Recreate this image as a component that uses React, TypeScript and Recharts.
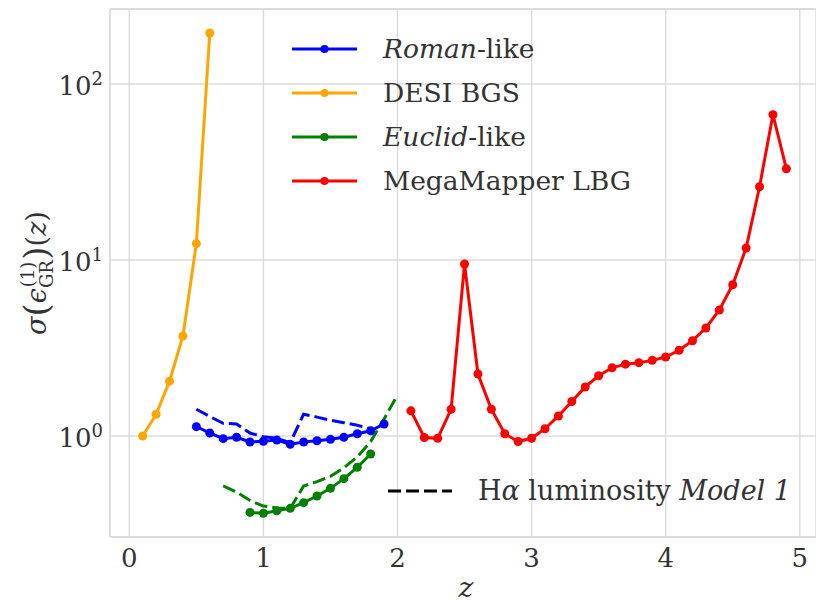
import React from "react";
import {
  LineChart,
  Line,
  XAxis,
  YAxis,
  CartesianGrid,
  ReferenceLine,
} from "recharts";

// redshift bins and forecast errors per survey
const zDesi = [0.1, 0.2, 0.3, 0.4, 0.5, 0.6];
const sigmaDesi = [1.0, 1.33, 2.05, 3.7, 12.4, 195];

const zRoman = [0.5, 0.6, 0.7, 0.8, 0.9, 1.0, 1.1, 1.2, 1.3, 1.4, 1.5, 1.6, 1.7, 1.8, 1.9];
const sigmaRoman = [1.13, 1.04, 0.966, 0.983, 0.925, 0.933, 0.949, 0.897, 0.925, 0.94, 0.957, 0.983, 1.03, 1.07, 1.17];

const zRomanM1 = [0.5, 0.6, 0.7, 0.8, 0.9, 1.0, 1.1, 1.2, 1.3, 1.4, 1.5, 1.6, 1.7, 1.8];
const sigmaRomanM1 = [1.42, 1.29, 1.18, 1.17, 1.04, 0.99, 0.97, 0.916, 1.33, 1.28, 1.23, 1.19, 1.15, 1.1];

const zEuclid = [0.9, 1.0, 1.1, 1.2, 1.3, 1.4, 1.5, 1.6, 1.7, 1.8];
const sigmaEuclid = [0.368, 0.364, 0.376, 0.388, 0.418, 0.456, 0.504, 0.572, 0.664, 0.79];

const zEuclidM1 = [0.7, 0.8, 0.9, 1.0, 1.1, 1.2, 1.3, 1.4, 1.5, 1.6, 1.7, 1.8, 1.9, 2.0];
const sigmaEuclidM1 = [0.52, 0.48, 0.43, 0.4, 0.39, 0.388, 0.52, 0.55, 0.59, 0.66, 0.76, 0.93, 1.25, 1.71];

const zMega = [2.1, 2.2, 2.3, 2.4, 2.5, 2.6, 2.7, 2.8, 2.9, 3.0, 3.1, 3.2, 3.3, 3.4, 3.5, 3.6, 3.7, 3.8, 3.9, 4.0, 4.1, 4.2, 4.3, 4.4, 4.5, 4.6, 4.7, 4.8, 4.9];
const sigmaMega = [1.39, 0.98, 0.97, 1.42, 9.5, 2.25, 1.42, 1.03, 0.93, 0.97, 1.1, 1.3, 1.57, 1.9, 2.2, 2.44, 2.56, 2.61, 2.69, 2.81, 3.07, 3.48, 4.11, 5.2, 7.24, 11.7, 26.1, 67, 33];

const xTicks = [0, 1, 2, 3, 4, 5];
const yTicks = [1, 10, 100];

const FONT = "'DejaVu Serif', serif";
const TEXT = "#333333";
const GRID = "#dcdcdc";
const LW = 3;
const DASH = "13 5";

const zip = (zs: number[], vs: number[]) => zs.map((z, i) => ({ z, s: vs[i] }));

const XTick = ({ x, y, payload }: any) => (
  <text x={x} y={y + 30} textAnchor="middle" fontFamily={FONT} fontSize={26} fill={TEXT}>
    {payload.value}
  </text>
);

const YTick = ({ x, y, payload }: any) => (
  <text x={x - 7} y={y + 11} textAnchor="end" fontFamily={FONT} fontSize={26} fill={TEXT}>
    10
    <tspan fontSize={18} dy={-10}>
      {Math.round(Math.log10(payload.value))}
    </tspan>
  </text>
);

const YLabel = ({ viewBox }: any) => {
  const cy = viewBox.y + viewBox.height / 2;
  const cx = 46;
  return (
    <text
      x={cx}
      y={cy}
      textAnchor="middle"
      transform={`rotate(-90 ${cx} ${cy})`}
      fontFamily={FONT}
      fontSize={27}
      fill={TEXT}
    >
      <tspan fontStyle="italic">σ</tspan>
      <tspan fontSize={34} dy={2}>(</tspan>
      <tspan fontStyle="italic" dy={-2}>ϵ</tspan>
      <tspan fontSize={18} dy={7}>GR</tspan>
      <tspan fontSize={18} dx={-27} dy={-19}>(1)</tspan>
      <tspan fontSize={34} dx={2} dy={14}>)</tspan>
      <tspan dy={-2}>(</tspan>
      <tspan fontStyle="italic">z</tspan>
      <tspan>)</tspan>
    </text>
  );
};

const XLabel = ({ viewBox }: any) => (
  <text
    x={viewBox.x + viewBox.width / 2 + 3}
    y={viewBox.y + 60}
    textAnchor="middle"
    fontFamily={FONT}
    fontStyle="italic"
    fontSize={28}
    fill={TEXT}
  >
    z
  </text>
);

const solid = [
  { key: "roman", color: "#0000ff", data: zip(zRoman, sigmaRoman) },
  { key: "desi", color: "#ffa500", data: zip(zDesi, sigmaDesi) },
  { key: "euclid", color: "#008000", data: zip(zEuclid, sigmaEuclid) },
  { key: "mega", color: "#ff0000", data: zip(zMega, sigmaMega) },
];

const dashed = [
  { key: "romanM1", color: "#0000ff", data: zip(zRomanM1, sigmaRomanM1) },
  { key: "euclidM1", color: "#008000", data: zip(zEuclidM1, sigmaEuclidM1) },
];

const legendRows = [
  { color: "#0000ff", label: <><i>Roman</i>-like</> },
  { color: "#ffa500", label: <>DESI BGS</> },
  { color: "#008000", label: <><i>Euclid</i>-like</> },
  { color: "#ff0000", label: <>MegaMapper LBG</> },
];

const yDomain = [0.2667, 267];

export default function App() {
  return (
    <div
      style={{
        position: "absolute",
        left: 0,
        top: 0,
        width: 816,
        height: 604,
        overflow: "hidden",
        background: "#fff",
      }}
    >
      <LineChart width={816} height={604} margin={{ top: 9, right: 0, bottom: 0, left: 0 }}>
        <CartesianGrid stroke={GRID} strokeWidth={1.5} />
        <XAxis
          type="number"
          dataKey="z"
          domain={[-0.144, 5.121]}
          ticks={xTicks}
          allowDataOverflow
          height={67}
          tickLine={false}
          tickSize={0}
          tickMargin={0}
          axisLine={{ stroke: GRID, strokeWidth: 2 }}
          tick={<XTick />}
          label={<XLabel />}
        />
        <YAxis
          type="number"
          dataKey="s"
          scale="log"
          domain={yDomain}
          ticks={yTicks}
          allowDataOverflow
          width={110}
          tickLine={false}
          tickSize={0}
          tickMargin={0}
          axisLine={{ stroke: GRID, strokeWidth: 2 }}
          tick={<YTick />}
          label={<YLabel />}
        />
        <ReferenceLine y={yDomain[1]} stroke={GRID} strokeWidth={2} />
        {dashed.map((d) => (
          <Line
            key={d.key}
            data={d.data}
            dataKey="s"
            stroke={d.color}
            strokeWidth={LW}
            strokeDasharray={DASH}
            dot={false}
            activeDot={false}
            isAnimationActive={false}
          />
        ))}
        {solid.map((d) => (
          <Line
            key={d.key}
            data={d.data}
            dataKey="s"
            stroke={d.color}
            strokeWidth={LW}
            dot={{ r: 4.5, fill: d.color, stroke: "none" }}
            activeDot={false}
            isAnimationActive={false}
          />
        ))}
      </LineChart>

      <div style={{ position: "absolute", left: 292, top: 27, fontFamily: FONT, color: TEXT }}>
        {legendRows.map((r, i) => (
          <div key={i} style={{ display: "flex", alignItems: "center", height: 44 }}>
            <svg width={65} height={10}>
              <line x1={0} y1={5} x2={65} y2={5} stroke={r.color} strokeWidth={LW} />
              <circle cx={32.5} cy={5} r={4} fill={r.color} />
            </svg>
            <span style={{ marginLeft: 26, fontSize: 26.5, lineHeight: "30px", whiteSpace: "nowrap" }}>
              {r.label}
            </span>
          </div>
        ))}
      </div>

      <div
        style={{
          position: "absolute",
          left: 388,
          top: 469,
          height: 44,
          display: "flex",
          alignItems: "center",
          fontFamily: FONT,
          color: TEXT,
        }}
      >
        <svg width={64} height={10}>
          <line x1={0} y1={5} x2={64} y2={5} stroke="#000" strokeWidth={LW} strokeDasharray={DASH} />
        </svg>
        <span style={{ marginLeft: 26, fontSize: 27, lineHeight: "30px", whiteSpace: "nowrap" }}>
          H<i>α</i> luminosity <i>Model 1</i>
        </span>
      </div>
    </div>
  );
}
